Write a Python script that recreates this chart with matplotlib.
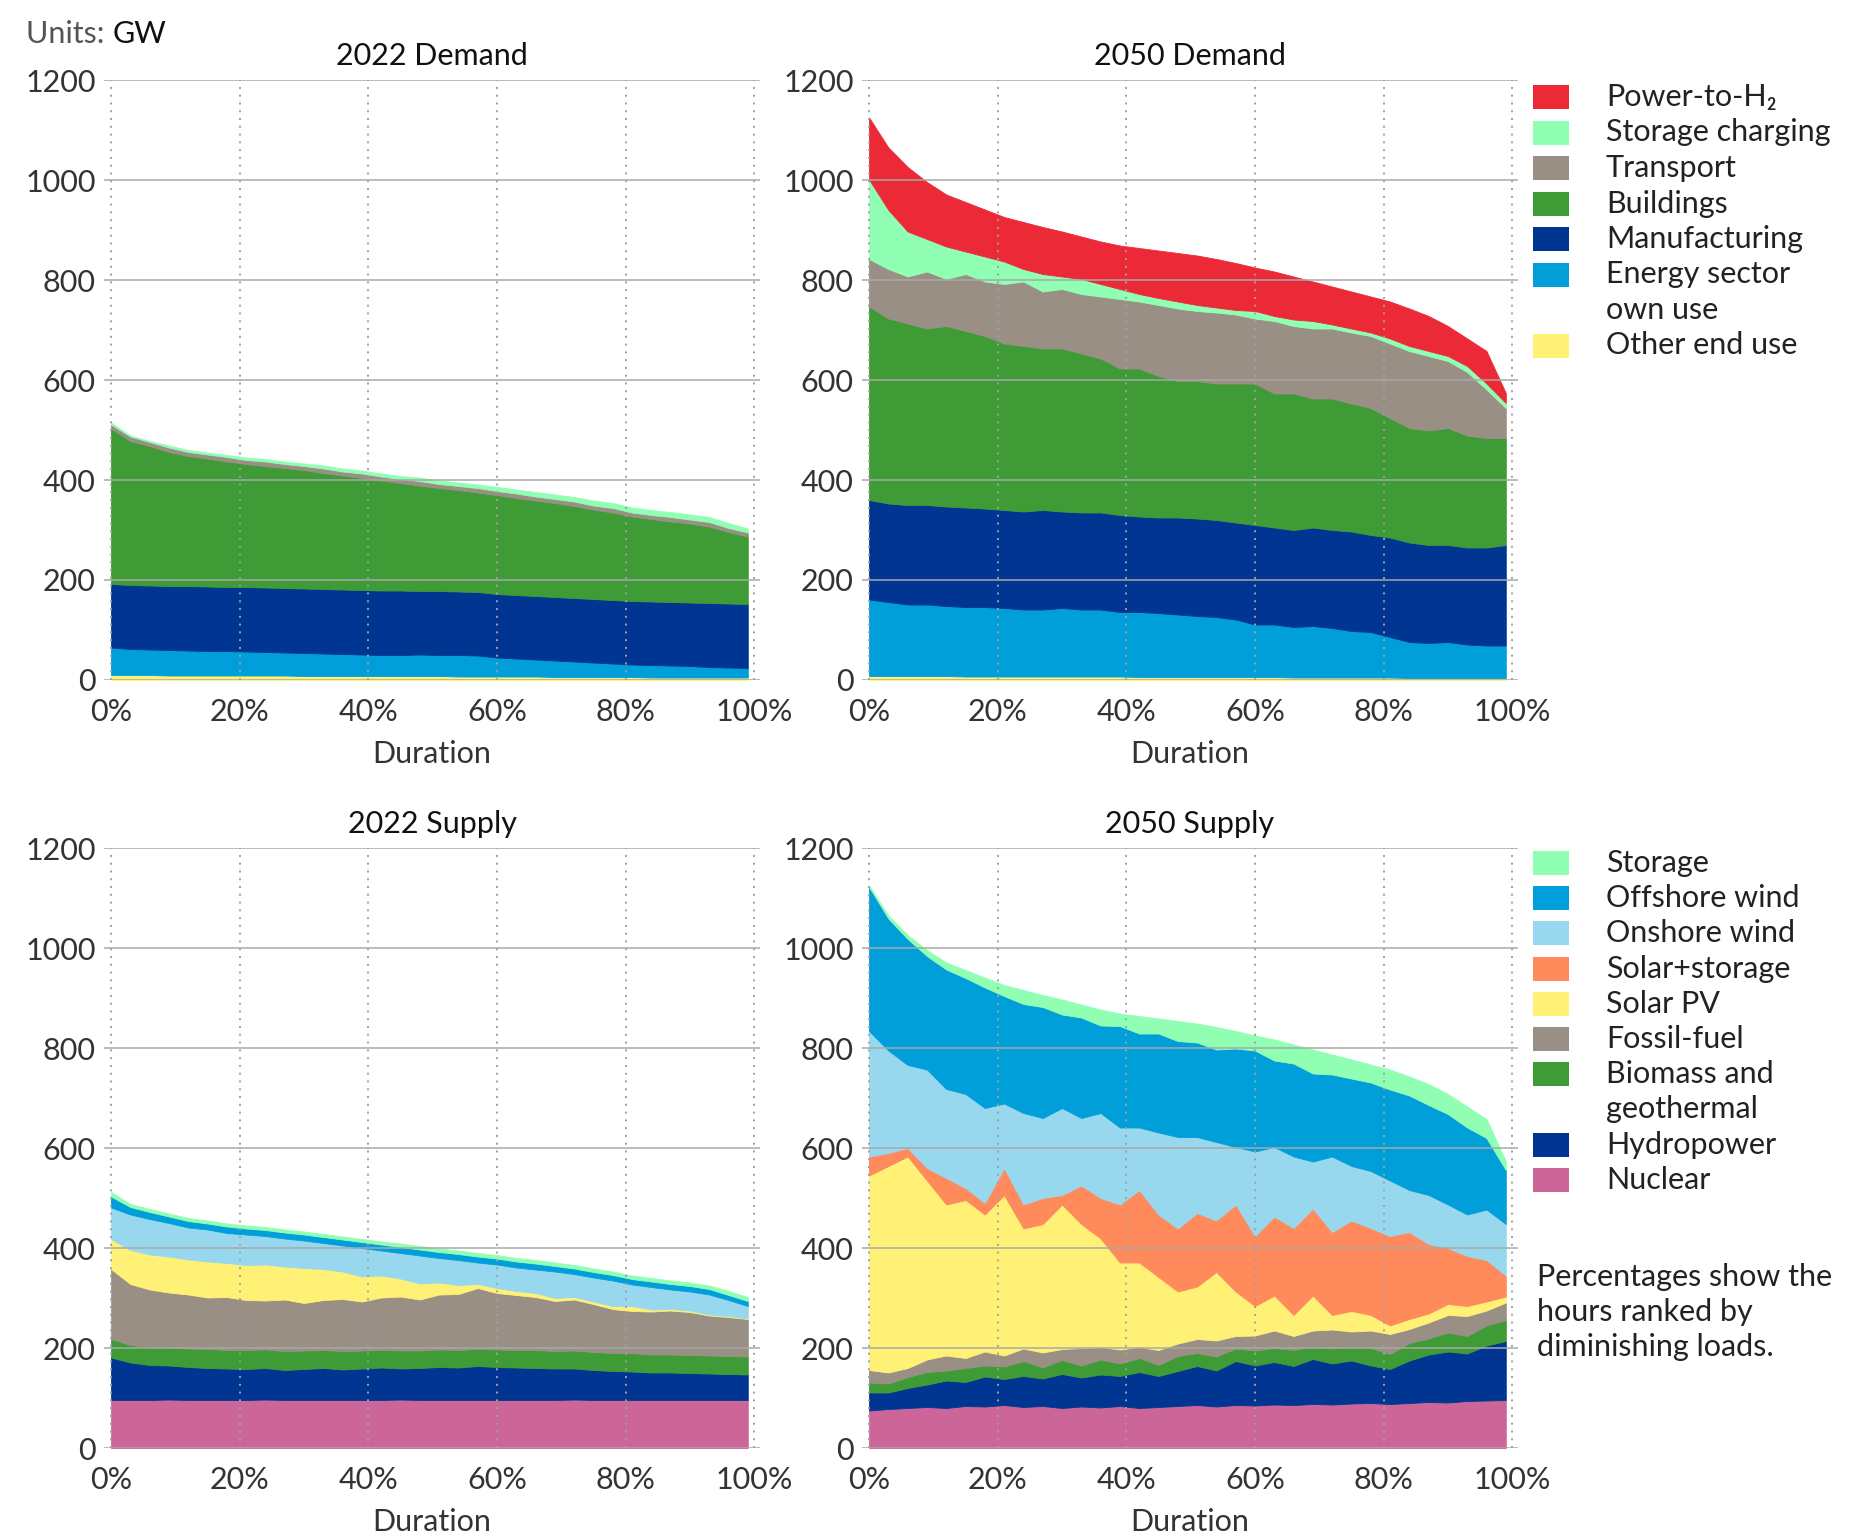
import numpy as np
import matplotlib.pyplot as plt
from matplotlib.patches import Rectangle

plt.rcParams['font.family'] = ['Lato', 'DejaVu Sans']

# hours ranked by load, as share of the year
duration = np.linspace(0, 0.99, 34)
pct_ticks = [0, 0.2, 0.4, 0.6, 0.8, 1.0]
pct_labels = ['0%', '20%', '40%', '60%', '80%', '100%']

# 2022 demand (GW)
d22_other = [10, 10, 10, 9, 9, 9, 9, 9, 9, 9, 8, 8, 8, 8, 8, 8, 8, 8, 7, 7, 7, 7, 7, 6, 6, 6, 6, 6, 5, 5, 5, 5, 5, 5]
d22_energy = [55, 52, 51, 51, 50, 49, 49, 48, 47, 46, 46, 45, 44, 43, 42, 42, 43, 42, 43, 42, 38, 36, 34, 33, 31, 29, 27, 25, 25, 24, 23, 21, 20, 19]
d22_manufacturing = [127, 128, 128, 128, 129, 129, 128, 129, 129, 129, 129, 129, 129, 129, 129, 129, 127, 128, 127, 127, 127, 127, 127, 127, 127, 127, 127, 127, 127, 127, 127, 128, 128, 128]
d22_buildings = [311, 288, 279, 268, 260, 256, 251, 246, 243, 240, 237, 232, 228, 224, 220, 215, 211, 206, 203, 199, 198, 194, 191, 188, 184, 179, 175, 169, 165, 161, 158, 153, 143, 135]
d22_transport = [8, 9, 8, 9, 8, 8, 9, 8, 9, 8, 8, 9, 8, 9, 8, 8, 9, 8, 8, 9, 8, 9, 8, 8, 9, 8, 9, 8, 8, 9, 8, 9, 8, 8]
d22_storage = [4, 2, 2, 4, 4, 4, 4, 5, 5, 5, 5, 6, 6, 6, 6, 6, 7, 7, 7, 7, 8, 8, 9, 9, 9, 10, 10, 10, 10, 10, 10, 10, 10, 8]

# 2050 demand (GW)
d50_other = [8, 8, 8, 8, 8, 7, 7, 7, 7, 7, 7, 7, 7, 7, 6, 6, 6, 6, 6, 6, 6, 6, 5, 5, 5, 5, 5, 5, 4, 4, 4, 4, 4, 4]
d50_energy = [153, 148, 143, 143, 140, 139, 139, 137, 134, 134, 137, 134, 134, 129, 130, 128, 125, 122, 120, 115, 105, 105, 101, 103, 99, 93, 91, 81, 72, 70, 72, 67, 65, 65]
d50_manufacturing = [199, 197, 199, 199, 199, 199, 197, 196, 196, 199, 193, 194, 194, 194, 191, 191, 194, 195, 194, 194, 199, 194, 194, 197, 196, 199, 194, 199, 199, 196, 194, 194, 196, 201]
d50_buildings = [387, 370, 363, 353, 361, 353, 345, 333, 331, 323, 326, 318, 308, 293, 296, 283, 273, 275, 273, 278, 283, 268, 273, 258, 263, 256, 254, 239, 229, 229, 234, 224, 219, 214]
d50_transport = [95, 99, 94, 114, 94, 114, 109, 119, 129, 114, 119, 119, 124, 139, 134, 142, 145, 140, 142, 138, 130, 145, 135, 140, 140, 142, 144, 149, 154, 149, 134, 127, 97, 60]
d50_storage = [159, 118, 90, 65, 65, 45, 50, 45, 25, 35, 25, 30, 25, 20, 15, 14, 14, 12, 10, 9, 15, 10, 13, 15, 8, 8, 7, 10, 10, 10, 10, 12, 12, 10]
d50_h2 = [124, 125, 129, 114, 104, 99, 94, 89, 94, 94, 90, 85, 85, 87, 92, 95, 97, 99, 97, 94, 87, 89, 86, 79, 76, 74, 72, 74, 75, 70, 60, 55, 65, 20]

# 2022 supply (GW)
s22_nuclear = [96, 96, 96, 97, 96, 96, 96, 96, 97, 96, 96, 96, 96, 96, 96, 97, 96, 96, 96, 96, 96, 96, 96, 96, 97, 96, 96, 96, 96, 96, 96, 96, 96, 96]
s22_hydro = [85, 75, 70, 68, 66, 64, 63, 62, 63, 60, 62, 64, 61, 63, 65, 62, 64, 66, 65, 68, 66, 65, 64, 63, 62, 60, 58, 57, 55, 55, 54, 53, 52, 51]
s22_biomass = [37, 35, 36, 36, 37, 38, 37, 38, 37, 38, 37, 36, 37, 36, 35, 36, 35, 35, 35, 34, 35, 35, 36, 35, 36, 36, 36, 37, 36, 36, 36, 36, 36, 36]
s22_fossil = [140, 122, 115, 110, 108, 103, 106, 100, 98, 103, 95, 100, 104, 98, 105, 108, 102, 110, 112, 122, 113, 110, 106, 100, 102, 96, 88, 84, 86, 88, 86, 80, 78, 75]
s22_solar = [60, 68, 70, 72, 70, 72, 68, 70, 72, 66, 70, 62, 55, 50, 44, 36, 32, 24, 18, 8, 10, 8, 8, 6, 5, 5, 6, 10, 4, 3, 3, 2, 2, 1]
s22_onshore = [63, 71, 71, 67, 64, 64, 60, 61, 57, 56, 55, 52, 52, 57, 50, 51, 56, 49, 50, 43, 47, 47, 47, 53, 46, 48, 51, 43, 45, 39, 38, 40, 32, 25]
s22_offshore = [22, 15, 14, 13, 13, 12, 13, 12, 12, 12, 12, 12, 12, 12, 12, 12, 12, 12, 12, 12, 12, 12, 12, 11, 11, 11, 11, 11, 11, 11, 11, 11, 10, 10]
s22_storage = [9, 6, 6, 6, 6, 6, 6, 6, 6, 6, 6, 6, 6, 6, 6, 7, 7, 7, 7, 7, 7, 7, 7, 7, 7, 7, 7, 7, 7, 7, 7, 7, 8, 8]

# 2050 supply (GW)
s50_nuclear = [75, 78, 80, 82, 80, 84, 83, 86, 82, 84, 80, 83, 81, 84, 80, 82, 84, 86, 83, 86, 85, 87, 86, 88, 87, 89, 90, 88, 90, 92, 91, 94, 95, 96]
s50_hydro = [36, 33, 40, 45, 55, 48, 60, 52, 62, 55, 68, 58, 66, 60, 72, 62, 70, 78, 72, 88, 80, 85, 78, 90, 82, 86, 75, 70, 85, 95, 102, 95, 110, 118]
s50_biomass = [20, 18, 22, 25, 20, 28, 22, 25, 30, 22, 28, 24, 30, 25, 28, 22, 30, 26, 28, 25, 30, 28, 32, 25, 30, 28, 35, 30, 35, 32, 38, 35, 40, 42]
s50_fossil = [25, 22, 18, 25, 30, 20, 28, 22, 25, 30, 22, 35, 25, 28, 22, 30, 25, 28, 32, 25, 30, 35, 28, 32, 38, 30, 35, 40, 28, 32, 35, 40, 30, 35]
s50_solar = [389, 413, 423, 358, 302, 316, 274, 321, 240, 257, 289, 248, 217, 174, 169, 146, 104, 105, 137, 89, 59, 70, 42, 70, 29, 41, 31, 17, 20, 18, 22, 20, 18, 12]
s50_solar_storage = [38, 26, 17, 25, 53, 24, 23, 54, 48, 52, 19, 77, 81, 116, 145, 125, 126, 147, 103, 174, 140, 158, 174, 174, 166, 181, 174, 179, 174, 139, 112, 100, 83, 42]
s50_onshore = [251, 205, 166, 197, 178, 188, 190, 129, 183, 160, 174, 135, 170, 154, 125, 164, 183, 152, 157, 115, 169, 139, 143, 94, 151, 109, 114, 111, 84, 98, 87, 83, 101, 103]
s50_offshore = [288, 264, 252, 227, 239, 232, 241, 215, 218, 222, 187, 201, 175, 203, 188, 198, 192, 189, 185, 197, 202, 173, 186, 176, 164, 175, 177, 182, 189, 180, 181, 174, 143, 108]
s50_storage = [3, 6, 8, 12, 14, 16, 20, 22, 28, 24, 30, 26, 32, 25, 35, 30, 40, 38, 45, 35, 30, 42, 38, 48, 40, 38, 36, 40, 38, 42, 40, 42, 38, 18]

RED = '#ec2a37'
MINT = '#91ffb3'
TAUPE = '#998f85'
GREEN = '#3f9b35'
NAVY = '#003591'
BLUE = '#009fda'
YELLOW = '#fff176'
SKY = '#98d8ef'
ORANGE = '#ff8a5c'
PINK = '#cc6699'

W, H = 1875, 1536
FS = 22


def px_rect(left, top, right, bottom):
	return [left / W, 1 - bottom / H, (right - left) / W, (bottom - top) / H]


def style_axes(ax, title):
	ax.set_xlim(-0.011, 1.009)
	ax.set_ylim(0, 1200)
	ax.set_yticks(np.arange(0, 1201, 200))
	ax.set_xticks(pct_ticks)
	ax.set_xticklabels(pct_labels)
	ax.grid(axis='y', color='#a8a8a8', linewidth=1.1)
	ax.grid(axis='x', color='#a0a0a0', linestyle=(0, (1, 3)), linewidth=1.4)
	ax.set_axisbelow(False)
	for s in ax.spines.values():
		s.set_visible(False)
	ax.tick_params(length=0, labelsize=FS, labelcolor='#333333')
	ax.tick_params(axis='x', pad=13)
	ax.tick_params(axis='y', pad=6)
	ax.set_title(title, fontsize=FS, pad=11, color='#111111')
	ax.set_xlabel('Duration', fontsize=FS, labelpad=10, color='#333333')


def draw_legend(fig, entries, first_px, step_px):
	row = 0
	for label, color in entries:
		yc = first_px + row * step_px
		fig.patches.append(Rectangle((1533 / W, 1 - (yc + 12) / H), 36 / W, 24 / H,
			transform=fig.transFigure, facecolor=color, edgecolor='none'))
		for line in label.split('\n'):
			fig.text(1606 / W, 1 - (first_px + row * step_px) / H, line,
				va='center', ha='left', fontsize=FS, color='#222222')
			row += 1


fig = plt.figure(figsize=(W / 100, H / 100), dpi=100)

ax1 = fig.add_axes(px_rect(104, 80, 760, 680))
ax2 = fig.add_axes(px_rect(862, 80, 1518, 680))
ax3 = fig.add_axes(px_rect(104, 848, 760, 1448))
ax4 = fig.add_axes(px_rect(862, 848, 1518, 1448))

fill = dict(edgecolor='face', linewidth=0.6)

# demand stacks, bottom to top
ax1.stackplot(duration, d22_other, d22_energy, d22_manufacturing, d22_buildings,
	d22_transport, d22_storage,
	colors=[YELLOW, BLUE, NAVY, GREEN, TAUPE, MINT], **fill)
ax2.stackplot(duration, d50_other, d50_energy, d50_manufacturing, d50_buildings,
	d50_transport, d50_storage, d50_h2,
	colors=[YELLOW, BLUE, NAVY, GREEN, TAUPE, MINT, RED], **fill)

# supply stacks, bottom to top
ax3.stackplot(duration, s22_nuclear, s22_hydro, s22_biomass, s22_fossil, s22_solar,
	s22_onshore, s22_offshore, s22_storage,
	colors=[PINK, NAVY, GREEN, TAUPE, YELLOW, SKY, BLUE, MINT], **fill)
ax4.stackplot(duration, s50_nuclear, s50_hydro, s50_biomass, s50_fossil, s50_solar,
	s50_solar_storage, s50_onshore, s50_offshore, s50_storage,
	colors=[PINK, NAVY, GREEN, TAUPE, YELLOW, ORANGE, SKY, BLUE, MINT], **fill)

style_axes(ax1, '2022 Demand')
style_axes(ax2, '2050 Demand')
style_axes(ax3, '2022 Supply')
style_axes(ax4, '2050 Supply')

demand_legend = [
	('Power-to-H\u2082', RED),
	('Storage charging', MINT),
	('Transport', TAUPE),
	('Buildings', GREEN),
	('Manufacturing', NAVY),
	('Energy sector\nown use', BLUE),
	('Other end use', YELLOW),
]
supply_legend = [
	('Storage', MINT),
	('Offshore wind', BLUE),
	('Onshore wind', SKY),
	('Solar+storage', ORANGE),
	('Solar PV', YELLOW),
	('Fossil-fuel', TAUPE),
	('Biomass and\ngeothermal', GREEN),
	('Hydropower', NAVY),
	('Nuclear', PINK),
]
draw_legend(fig, demand_legend, 97, 35.5)
draw_legend(fig, supply_legend, 863, 35.2)

# note under the supply legend
note = ['Percentages show the', 'hours ranked by', 'diminishing loads.']
for k, line in enumerate(note):
	fig.text(1537 / W, 1 - (1277 + k * 35) / H, line, va='center', ha='left',
		fontsize=FS, color='#222222')

# units
t = fig.text(26 / W, 1 - 34 / H, 'Units: ', va='center', ha='left', fontsize=FS, color='#555555')
ax1.annotate('GW', xy=(1, 0), xycoords=t, va='bottom', ha='left', fontsize=FS,
	color='#111111', annotation_clip=False)

fig.savefig('out.png', dpi=100)
